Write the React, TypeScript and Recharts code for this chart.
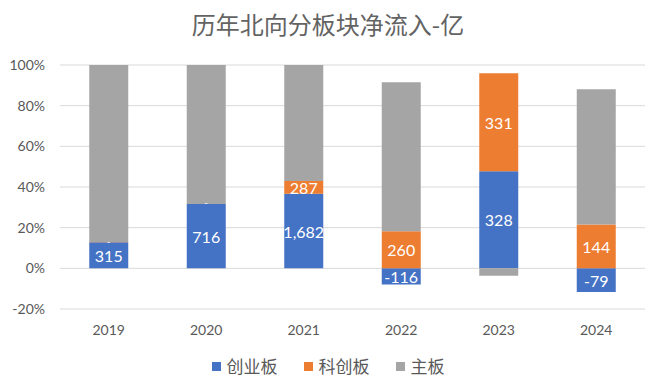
import React from 'react';
import { BarChart, Bar, XAxis, YAxis, CartesianGrid, LabelList } from 'recharts';

const years = ['2019', '2020', '2021', '2022', '2023', '2024'];
// share of total (percent)
const gemShare = [12.8, 31.6, 36.7, -8.0, 47.8, -11.6];
const starShare = [0.1, 0.1, 6.3, 18.2, 48.2, 21.5];
const mainShare = [87.1, 68.3, 57.0, 73.3, -3.7, 66.6];
// data labels (亿)
const gemLabels = ['315', '716', '1,682', '-116', '328', '-79'];
const starLabels = ['-', '-', '287', '260', '331', '144'];
const yTicks = [-20, 0, 20, 40, 60, 80, 100];
const seriesNames = ['创业板', '科创板', '主板'];
const seriesColors = ['#4472C4', '#ED7D31', '#A5A5A5'];

const data = years.map((y, i) => ({
  year: y,
  gem: gemShare[i],
  star: starShare[i],
  main: mainShare[i],
  gemLabel: gemLabels[i],
  starLabel: starLabels[i],
}));

const FONT = 'Lato, "Noto Sans CJK SC", sans-serif';

const renderLabel = (props: any) => {
  const { x, y, width, height, value } = props;
  const cx = Number(x) + Number(width) / 2;
  const cy = Number(y) + Number(height) / 2;
  if (value === '-') {
    return (
      <text x={cx} y={cy - 1} textAnchor="middle" dominantBaseline="central" fill="#ffffff" fontSize={9} fontFamily={FONT}>
        {value}
      </text>
    );
  }
  return (
    <text x={cx} y={cy} textAnchor="middle" dominantBaseline="central" fill="#ffffff" fontSize={16} fontFamily={FONT}>
      {value}
    </text>
  );
};

export default function App() {
  return (
    <div style={{ position: 'absolute', left: 0, top: 0, width: 656, height: 383, background: '#fff', fontFamily: FONT }}>
      <div style={{ position: 'absolute', top: 12, left: 0, width: 656, textAlign: 'center', fontSize: 24, lineHeight: '24px', color: '#636363', fontFamily: '"Noto Sans CJK SC", sans-serif' }}>
        历年北向分板块净流入-亿
      </div>
      <BarChart
        width={656}
        height={383}
        data={data}
        stackOffset="sign"
        barCategoryGap="30%"
        margin={{ top: 65, right: 11, left: 0, bottom: 42 }}
      >
        <CartesianGrid vertical={false} stroke="#d9d9d9" strokeWidth={1} />
        <XAxis
          dataKey="year"
          axisLine={false}
          tickLine={false}
          height={32}
          tick={{ fill: '#595959', fontSize: 14, fontFamily: FONT }}
          tickMargin={10}
        />
        <YAxis
          domain={[-20, 100]}
          ticks={yTicks}
          width={60}
          axisLine={false}
          tickLine={false}
          tickFormatter={(v: number) => `${v}%`}
          tick={{ fill: '#595959', fontSize: 14, fontFamily: FONT }}
          tickMargin={9}
        />
        <Bar dataKey="gem" name="创业板" stackId="a" fill="#4472C4" isAnimationActive={false}>
          <LabelList dataKey="gemLabel" content={renderLabel} />
        </Bar>
        <Bar dataKey="star" name="科创板" stackId="a" fill="#ED7D31" isAnimationActive={false}>
          <LabelList dataKey="starLabel" content={renderLabel} />
        </Bar>
        <Bar dataKey="main" name="主板" stackId="a" fill="#A5A5A5" isAnimationActive={false} />
      </BarChart>
      <div style={{ position: 'absolute', top: 355, left: 0, width: 656, display: 'flex', justifyContent: 'center', fontSize: 17, lineHeight: '22px', color: '#595959', fontFamily: '"Noto Sans CJK SC", sans-serif' }}>
        {seriesNames.map((n, i) => (
          <div key={n} style={{ display: 'flex', alignItems: 'center', margin: '0 13px' }}>
            <span style={{ display: 'inline-block', width: 9, height: 9, background: seriesColors[i], marginRight: 6 }} />
            <span>{n}</span>
          </div>
        ))}
      </div>
    </div>
  );
}
